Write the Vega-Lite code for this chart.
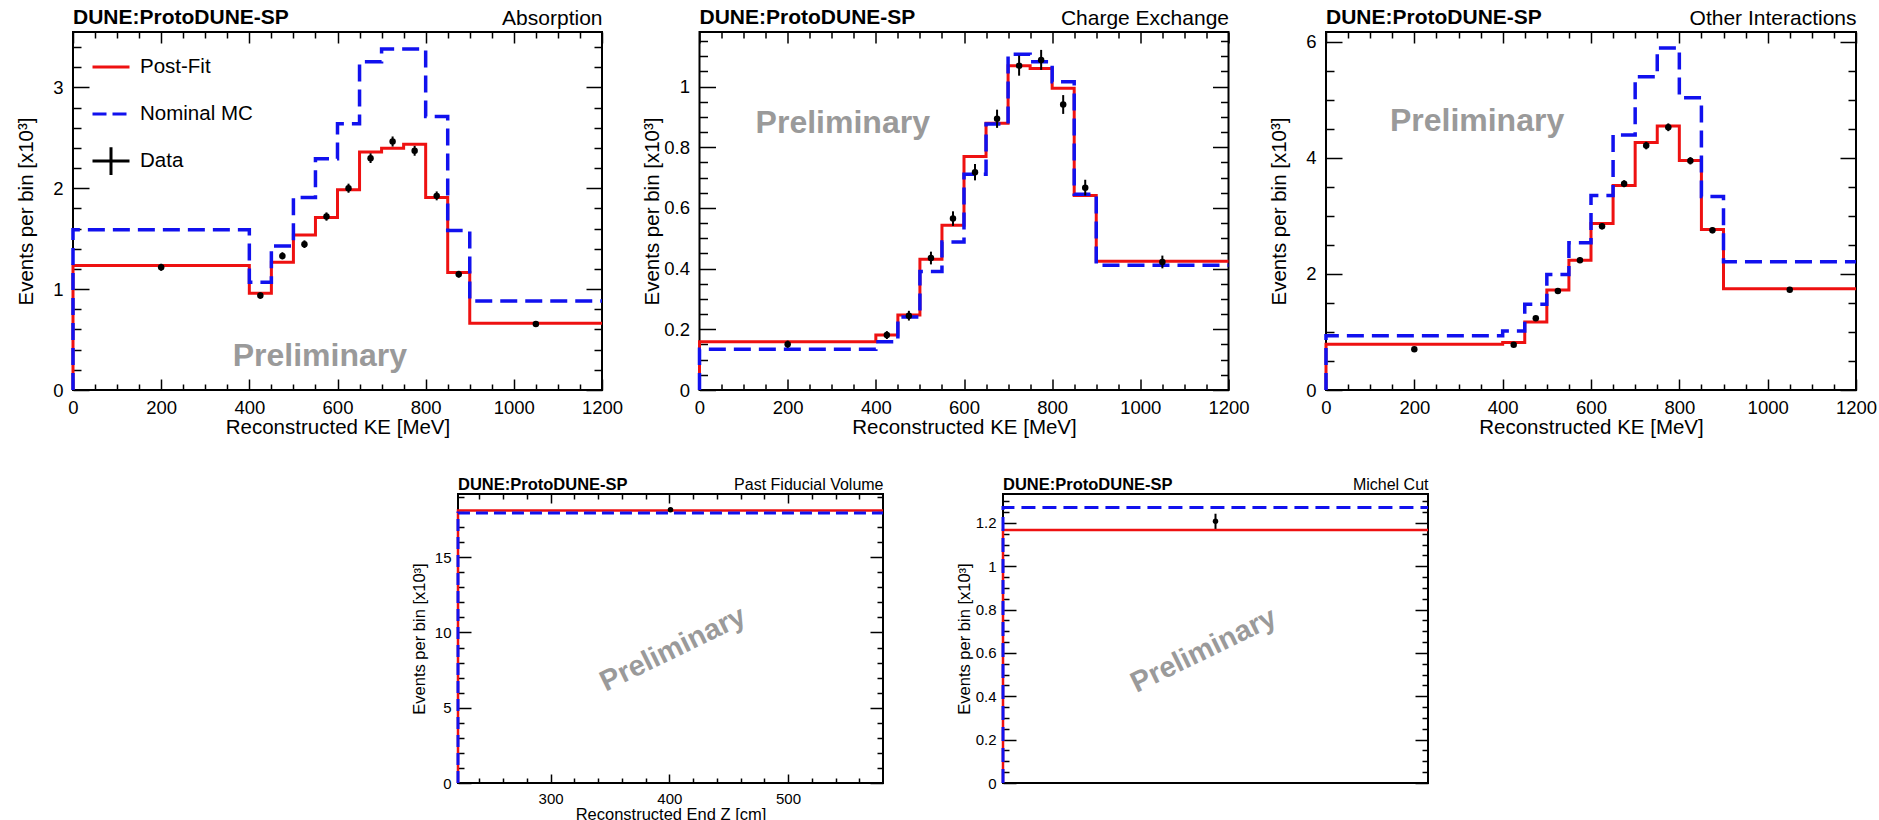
{
"$schema": "https://vega.github.io/schema/vega-lite/v6.json",
"background": "white",
"padding": {"left": 15, "top": 6, "right": 0, "bottom": 0},
"datasets": {
"abs_steps": [
{"s":"Post-Fit","o":0,"e":0,"v":0},{"s":"Post-Fit","o":1,"e":0,"v":1.234},{"s":"Post-Fit","o":2,"e":400,"v":0.959},{"s":"Post-Fit","o":3,"e":450,"v":1.267},{"s":"Post-Fit","o":4,"e":500,"v":1.538},{"s":"Post-Fit","o":5,"e":550,"v":1.71},{"s":"Post-Fit","o":6,"e":600,"v":1.985},{"s":"Post-Fit","o":7,"e":650,"v":2.359},{"s":"Post-Fit","o":8,"e":700,"v":2.398},{"s":"Post-Fit","o":9,"e":750,"v":2.438},{"s":"Post-Fit","o":10,"e":800,"v":1.909},{"s":"Post-Fit","o":11,"e":850,"v":1.164},{"s":"Post-Fit","o":12,"e":900,"v":0.662},{"s":"Post-Fit","o":13,"e":1200,"v":0.662},
{"s":"Nominal MC","o":0,"e":0,"v":0},{"s":"Nominal MC","o":1,"e":0,"v":1.588},{"s":"Nominal MC","o":2,"e":400,"v":1.068},{"s":"Nominal MC","o":3,"e":450,"v":1.429},{"s":"Nominal MC","o":4,"e":500,"v":1.909},{"s":"Nominal MC","o":5,"e":550,"v":2.292},{"s":"Nominal MC","o":6,"e":600,"v":2.64},{"s":"Nominal MC","o":7,"e":650,"v":3.255},{"s":"Nominal MC","o":8,"e":700,"v":3.381},{"s":"Nominal MC","o":9,"e":750,"v":3.381},{"s":"Nominal MC","o":10,"e":800,"v":2.712},{"s":"Nominal MC","o":11,"e":850,"v":1.581},{"s":"Nominal MC","o":12,"e":900,"v":0.883},{"s":"Nominal MC","o":13,"e":1200,"v":0.883}
],
"abs_pts": [
{"x":200,"v":1.217,"lo":1.182,"hi":1.252},{"x":425,"v":0.936,"lo":0.905,"hi":0.967},{"x":475,"v":1.33,"lo":1.294,"hi":1.366},{"x":525,"v":1.446,"lo":1.408,"hi":1.484},{"x":575,"v":1.72,"lo":1.679,"hi":1.761},{"x":625,"v":2.001,"lo":1.956,"hi":2.046},{"x":675,"v":2.299,"lo":2.251,"hi":2.347},{"x":725,"v":2.464,"lo":2.414,"hi":2.514},{"x":775,"v":2.372,"lo":2.323,"hi":2.421},{"x":825,"v":1.925,"lo":1.881,"hi":1.969},{"x":875,"v":1.148,"lo":1.114,"hi":1.182},{"x":1050,"v":0.655,"lo":0.629,"hi":0.681}
],
"cex_steps": [
{"s":"Post-Fit","o":0,"e":0,"v":0},{"s":"Post-Fit","o":1,"e":0,"v":0.159},{"s":"Post-Fit","o":2,"e":400,"v":0.181},{"s":"Post-Fit","o":3,"e":450,"v":0.247},{"s":"Post-Fit","o":4,"e":500,"v":0.431},{"s":"Post-Fit","o":5,"e":550,"v":0.543},{"s":"Post-Fit","o":6,"e":600,"v":0.77},{"s":"Post-Fit","o":7,"e":650,"v":0.879},{"s":"Post-Fit","o":8,"e":700,"v":1.069},{"s":"Post-Fit","o":9,"e":750,"v":1.06},{"s":"Post-Fit","o":10,"e":800,"v":0.995},{"s":"Post-Fit","o":11,"e":850,"v":0.641},{"s":"Post-Fit","o":12,"e":900,"v":0.424},{"s":"Post-Fit","o":13,"e":1200,"v":0.424},
{"s":"Nominal MC","o":0,"e":0,"v":0},{"s":"Nominal MC","o":1,"e":0,"v":0.134},{"s":"Nominal MC","o":2,"e":400,"v":0.159},{"s":"Nominal MC","o":3,"e":450,"v":0.241},{"s":"Nominal MC","o":4,"e":500,"v":0.391},{"s":"Nominal MC","o":5,"e":550,"v":0.488},{"s":"Nominal MC","o":6,"e":600,"v":0.711},{"s":"Nominal MC","o":7,"e":650,"v":0.877},{"s":"Nominal MC","o":8,"e":700,"v":1.107},{"s":"Nominal MC","o":9,"e":750,"v":1.082},{"s":"Nominal MC","o":10,"e":800,"v":1.016},{"s":"Nominal MC","o":11,"e":850,"v":0.645},{"s":"Nominal MC","o":12,"e":900,"v":0.411},{"s":"Nominal MC","o":13,"e":1200,"v":0.411}
],
"cex_pts": [
{"x":200,"v":0.151,"lo":0.139,"hi":0.163},{"x":425,"v":0.181,"lo":0.168,"hi":0.194},{"x":475,"v":0.245,"lo":0.229,"hi":0.261},{"x":525,"v":0.435,"lo":0.414,"hi":0.456},{"x":575,"v":0.565,"lo":0.541,"hi":0.589},{"x":625,"v":0.718,"lo":0.691,"hi":0.745},{"x":675,"v":0.894,"lo":0.864,"hi":0.924},{"x":725,"v":1.069,"lo":1.036,"hi":1.102},{"x":775,"v":1.088,"lo":1.055,"hi":1.121},{"x":825,"v":0.941,"lo":0.91,"hi":0.972},{"x":875,"v":0.667,"lo":0.641,"hi":0.693},{"x":1050,"v":0.422,"lo":0.401,"hi":0.443}
],
"oth_steps": [
{"s":"Post-Fit","o":0,"e":0,"v":0},{"s":"Post-Fit","o":1,"e":0,"v":0.79},{"s":"Post-Fit","o":2,"e":400,"v":0.819},{"s":"Post-Fit","o":3,"e":450,"v":1.173},{"s":"Post-Fit","o":4,"e":500,"v":1.723},{"s":"Post-Fit","o":5,"e":550,"v":2.238},{"s":"Post-Fit","o":6,"e":600,"v":2.868},{"s":"Post-Fit","o":7,"e":650,"v":3.526},{"s":"Post-Fit","o":8,"e":700,"v":4.265},{"s":"Post-Fit","o":9,"e":750,"v":4.551},{"s":"Post-Fit","o":10,"e":800,"v":3.955},{"s":"Post-Fit","o":11,"e":850,"v":2.765},{"s":"Post-Fit","o":12,"e":900,"v":1.746},{"s":"Post-Fit","o":13,"e":1200,"v":1.746},
{"s":"Nominal MC","o":0,"e":0,"v":0},{"s":"Nominal MC","o":1,"e":0,"v":0.933},{"s":"Nominal MC","o":2,"e":400,"v":1.019},{"s":"Nominal MC","o":3,"e":450,"v":1.477},{"s":"Nominal MC","o":4,"e":500,"v":1.992},{"s":"Nominal MC","o":5,"e":550,"v":2.536},{"s":"Nominal MC","o":6,"e":600,"v":3.354},{"s":"Nominal MC","o":7,"e":650,"v":4.396},{"s":"Nominal MC","o":8,"e":700,"v":5.398},{"s":"Nominal MC","o":9,"e":750,"v":5.896},{"s":"Nominal MC","o":10,"e":800,"v":5.037},{"s":"Nominal MC","o":11,"e":850,"v":3.337},{"s":"Nominal MC","o":12,"e":900,"v":2.209},{"s":"Nominal MC","o":13,"e":1200,"v":2.209}
],
"oth_pts": [
{"x":200,"v":0.704,"lo":0.677,"hi":0.731},{"x":425,"v":0.778,"lo":0.75,"hi":0.806},{"x":475,"v":1.236,"lo":1.201,"hi":1.271},{"x":525,"v":1.706,"lo":1.665,"hi":1.747},{"x":575,"v":2.238,"lo":2.191,"hi":2.285},{"x":625,"v":2.822,"lo":2.769,"hi":2.875},{"x":675,"v":3.555,"lo":3.495,"hi":3.615},{"x":725,"v":4.213,"lo":4.148,"hi":4.278},{"x":775,"v":4.528,"lo":4.461,"hi":4.595},{"x":825,"v":3.95,"lo":3.887,"hi":4.013},{"x":875,"v":2.753,"lo":2.701,"hi":2.805},{"x":1050,"v":1.729,"lo":1.687,"hi":1.771}
],
"fid_steps": [
{"s":"Post-Fit","o":0,"e":222,"v":0},{"s":"Post-Fit","o":1,"e":222,"v":18.11},{"s":"Post-Fit","o":2,"e":580,"v":18.11},
{"s":"Nominal MC","o":0,"e":222,"v":0},{"s":"Nominal MC","o":1,"e":222,"v":17.94},{"s":"Nominal MC","o":2,"e":580,"v":17.94}
],
"fid_pts": [{"x":401,"v":18.16,"lo":18.03,"hi":18.29}],
"mic_steps": [
{"s":"Post-Fit","o":0,"e":0,"v":0},{"s":"Post-Fit","o":1,"e":0,"v":1.167},{"s":"Post-Fit","o":2,"e":1,"v":1.167},
{"s":"Nominal MC","o":0,"e":0,"v":0},{"s":"Nominal MC","o":1,"e":0,"v":1.271},{"s":"Nominal MC","o":2,"e":1,"v":1.271}
],
"mic_pts": [{"x":0.5,"v":1.207,"lo":1.172,"hi":1.242}]
},
"vconcat": [
{
"hconcat": [
{
"width": 529, "height": 358,
"title": {"text": "DUNE:ProtoDUNE-SP", "fontSize": 21, "offset": -21},
"layer": [
{"data": {"name": "abs_steps"}, "transform": [{"filter": "datum.s === 'Post-Fit'"}],
 "mark": {"type": "line", "interpolate": "step-after", "strokeWidth": 3},
 "encoding": {
  "x": {"field": "e", "type": "quantitative", "scale": {"domain": [0, 1200], "nice": false, "zero": false},
   "axis": {"orient": "bottom", "values": [0,50,100,150,200,250,300,350,400,450,500,550,600,650,700,750,800,850,900,950,1000,1050,1100,1150,1200], "tickSize": {"condition": {"test": "datum.value % 200 === 0", "value": -11}, "value": -6}, "labelExpr": "datum.value % 200 === 0 ? datum.label : ''", "format": "d", "labelFontSize": 18.5, "labelPadding": 19.5, "title": "Reconstructed KE [MeV]", "titleFontSize": 20.5, "titlePadding": 5, "minExtent": 22, "maxExtent": 22}},
  "y": {"field": "v", "type": "quantitative", "scale": {"domain": [0, 3.55], "nice": false, "zero": false},
   "axis": {"orient": "left", "values": [0,0.2,0.4,0.6,0.8,1,1.2,1.4,1.6,1.8,2,2.2,2.4,2.6,2.8,3,3.2,3.4], "tickSize": {"condition": {"test": "abs(datum.value - round(datum.value)) < 1e-6", "value": -16}, "value": -8}, "labelExpr": "abs(datum.value - round(datum.value)) < 1e-6 ? datum.label : ''", "format": "~g", "labelFontSize": 18.5, "labelPadding": 26, "title": "Events per bin [x10³]", "titleFontSize": 20.5, "titlePadding": 4, "minExtent": 33, "maxExtent": 33}},
  "order": {"field": "o", "type": "quantitative"},
  "color": {"datum": "Post-Fit", "scale": {"domain": ["Post-Fit", "Nominal MC", "Data"], "range": ["#ee1111", "#1111ee", "#000000"]},
   "legend": {"orient": "top-left", "offset": 15, "padding": 0, "title": null, "symbolType": "stroke", "symbolSize": 1369, "symbolStrokeWidth": 3, "symbolOffset": 3, "labelFontSize": 20.5, "labelColor": "#000000", "labelOffset": 9, "rowPadding": 16,
    "encode": {"symbols": {"update": {"shape": {"signal": "datum.value === 'Data' ? 'M-1,0H1M0,-0.75V0.75' : 'stroke'"}, "strokeDash": {"signal": "datum.value === 'Nominal MC' ? [14, 6] : [1, 0]"}}}}}}
 }},
{"data": {"name": "abs_steps"}, "transform": [{"filter": "datum.s === 'Nominal MC'"}],
 "mark": {"type": "line", "interpolate": "step-after", "strokeWidth": 3.5, "strokeDash": [17, 8]},
 "encoding": {
  "x": {"field": "e", "type": "quantitative",
   "axis": {"orient": "top", "values": [0,50,100,150,200,250,300,350,400,450,500,550,600,650,700,750,800,850,900,950,1000,1050,1100,1150,1200], "tickSize": {"condition": {"test": "datum.value % 200 === 0", "value": -11}, "value": -6}, "labels": false, "title": "Absorption", "titleFontSize": 21, "titleAnchor": "end", "titleAlign": "right", "titlePadding": 4, "minExtent": 0, "maxExtent": 0}},
  "y": {"field": "v", "type": "quantitative",
   "axis": {"orient": "right", "values": [0,0.2,0.4,0.6,0.8,1,1.2,1.4,1.6,1.8,2,2.2,2.4,2.6,2.8,3,3.2,3.4], "tickSize": {"condition": {"test": "abs(datum.value - round(datum.value)) < 1e-6", "value": -16}, "value": -8}, "labels": false, "title": null}},
  "order": {"field": "o", "type": "quantitative"},
  "color": {"datum": "Nominal MC"}
 }},
{"data": {"name": "abs_pts"}, "mark": {"type": "rule", "strokeWidth": 2},
 "encoding": {"x": {"field": "x", "type": "quantitative", "axis": null}, "y": {"field": "lo", "type": "quantitative", "axis": null}, "y2": {"field": "hi"}, "color": {"datum": "Data"}}},
{"data": {"name": "abs_pts"}, "mark": {"type": "circle", "color": "#000000", "size": 42, "opacity": 1},
 "encoding": {"x": {"field": "x", "type": "quantitative", "axis": null}, "y": {"field": "v", "type": "quantitative", "axis": null}}},
{"data": {"values": [{"t": "Preliminary"}]}, "mark": {"type": "text", "fontSize": 32, "fontWeight": "bold", "color": "#9a9a9a", "align": "center", "baseline": "middle"},
 "encoding": {"x": {"datum": 560, "type": "quantitative", "axis": null}, "y": {"datum": 0.337, "type": "quantitative", "axis": null}, "text": {"field": "t"}}}
],
"resolve": {"axis": {"x": "independent", "y": "independent"}}
},
{
"width": 529, "height": 358,
"title": {"text": "DUNE:ProtoDUNE-SP", "fontSize": 21, "offset": -21},
"layer": [
{"data": {"name": "cex_steps"}, "transform": [{"filter": "datum.s === 'Post-Fit'"}],
 "mark": {"type": "line", "interpolate": "step-after", "strokeWidth": 3, "color": "#ee1111"},
 "encoding": {
  "x": {"field": "e", "type": "quantitative", "scale": {"domain": [0, 1200], "nice": false, "zero": false},
   "axis": {"orient": "bottom", "values": [0,50,100,150,200,250,300,350,400,450,500,550,600,650,700,750,800,850,900,950,1000,1050,1100,1150,1200], "tickSize": {"condition": {"test": "datum.value % 200 === 0", "value": -11}, "value": -6}, "labelExpr": "datum.value % 200 === 0 ? datum.label : ''", "format": "d", "labelFontSize": 18.5, "labelPadding": 19.5, "title": "Reconstructed KE [MeV]", "titleFontSize": 20.5, "titlePadding": 5, "minExtent": 22, "maxExtent": 22}},
  "y": {"field": "v", "type": "quantitative", "scale": {"domain": [0, 1.18], "nice": false, "zero": false},
   "axis": {"orient": "left", "values": [0,0.05,0.1,0.15,0.2,0.25,0.3,0.35,0.4,0.45,0.5,0.55,0.6,0.65,0.7,0.75,0.8,0.85,0.9,0.95,1,1.05,1.1,1.15], "tickSize": {"condition": {"test": "abs(datum.value / 0.2 - round(datum.value / 0.2)) < 1e-6", "value": -16}, "value": -8}, "labelExpr": "abs(datum.value / 0.2 - round(datum.value / 0.2)) < 1e-6 ? datum.label : ''", "format": "~g", "labelFontSize": 18.5, "labelPadding": 26, "title": "Events per bin [x10³]", "titleFontSize": 20.5, "titlePadding": 4, "minExtent": 33, "maxExtent": 33}},
  "order": {"field": "o", "type": "quantitative"}
 }},
{"data": {"name": "cex_steps"}, "transform": [{"filter": "datum.s === 'Nominal MC'"}],
 "mark": {"type": "line", "interpolate": "step-after", "strokeWidth": 3.5, "strokeDash": [17, 8], "color": "#1111ee"},
 "encoding": {
  "x": {"field": "e", "type": "quantitative",
   "axis": {"orient": "top", "values": [0,50,100,150,200,250,300,350,400,450,500,550,600,650,700,750,800,850,900,950,1000,1050,1100,1150,1200], "tickSize": {"condition": {"test": "datum.value % 200 === 0", "value": -11}, "value": -6}, "labels": false, "title": "Charge Exchange", "titleFontSize": 21, "titleAnchor": "end", "titleAlign": "right", "titlePadding": 4, "minExtent": 0, "maxExtent": 0}},
  "y": {"field": "v", "type": "quantitative",
   "axis": {"orient": "right", "values": [0,0.05,0.1,0.15,0.2,0.25,0.3,0.35,0.4,0.45,0.5,0.55,0.6,0.65,0.7,0.75,0.8,0.85,0.9,0.95,1,1.05,1.1,1.15], "tickSize": {"condition": {"test": "abs(datum.value / 0.2 - round(datum.value / 0.2)) < 1e-6", "value": -16}, "value": -8}, "labels": false, "title": null}},
  "order": {"field": "o", "type": "quantitative"}
 }},
{"data": {"name": "cex_pts"}, "mark": {"type": "rule", "strokeWidth": 2, "color": "#000000"},
 "encoding": {"x": {"field": "x", "type": "quantitative", "axis": null}, "y": {"field": "lo", "type": "quantitative", "axis": null}, "y2": {"field": "hi"}}},
{"data": {"name": "cex_pts"}, "mark": {"type": "circle", "color": "#000000", "size": 42, "opacity": 1},
 "encoding": {"x": {"field": "x", "type": "quantitative", "axis": null}, "y": {"field": "v", "type": "quantitative", "axis": null}}},
{"data": {"values": [{"t": "Preliminary"}]}, "mark": {"type": "text", "fontSize": 32, "fontWeight": "bold", "color": "#9a9a9a", "align": "center", "baseline": "middle"},
 "encoding": {"x": {"datum": 325, "type": "quantitative", "axis": null}, "y": {"datum": 0.88, "type": "quantitative", "axis": null}, "text": {"field": "t"}}}
],
"resolve": {"axis": {"x": "independent", "y": "independent"}}
},
{
"width": 530, "height": 358,
"title": {"text": "DUNE:ProtoDUNE-SP", "fontSize": 21, "offset": -21},
"layer": [
{"data": {"name": "oth_steps"}, "transform": [{"filter": "datum.s === 'Post-Fit'"}],
 "mark": {"type": "line", "interpolate": "step-after", "strokeWidth": 3, "color": "#ee1111"},
 "encoding": {
  "x": {"field": "e", "type": "quantitative", "scale": {"domain": [0, 1200], "nice": false, "zero": false},
   "axis": {"orient": "bottom", "values": [0,50,100,150,200,250,300,350,400,450,500,550,600,650,700,750,800,850,900,950,1000,1050,1100,1150,1200], "tickSize": {"condition": {"test": "datum.value % 200 === 0", "value": -11}, "value": -6}, "labelExpr": "datum.value % 200 === 0 ? datum.label : ''", "format": "d", "labelFontSize": 18.5, "labelPadding": 19.5, "title": "Reconstructed KE [MeV]", "titleFontSize": 20.5, "titlePadding": 5, "minExtent": 22, "maxExtent": 22}},
  "y": {"field": "v", "type": "quantitative", "scale": {"domain": [0, 6.17], "nice": false, "zero": false},
   "axis": {"orient": "left", "values": [0,0.5,1,1.5,2,2.5,3,3.5,4,4.5,5,5.5,6], "tickSize": {"condition": {"test": "datum.value % 2 === 0", "value": -16}, "value": -8}, "labelExpr": "datum.value % 2 === 0 ? datum.label : ''", "format": "~g", "labelFontSize": 18.5, "labelPadding": 26, "title": "Events per bin [x10³]", "titleFontSize": 20.5, "titlePadding": 4, "minExtent": 33, "maxExtent": 33}},
  "order": {"field": "o", "type": "quantitative"}
 }},
{"data": {"name": "oth_steps"}, "transform": [{"filter": "datum.s === 'Nominal MC'"}],
 "mark": {"type": "line", "interpolate": "step-after", "strokeWidth": 3.5, "strokeDash": [17, 8], "color": "#1111ee"},
 "encoding": {
  "x": {"field": "e", "type": "quantitative",
   "axis": {"orient": "top", "values": [0,50,100,150,200,250,300,350,400,450,500,550,600,650,700,750,800,850,900,950,1000,1050,1100,1150,1200], "tickSize": {"condition": {"test": "datum.value % 200 === 0", "value": -11}, "value": -6}, "labels": false, "title": "Other Interactions", "titleFontSize": 21, "titleAnchor": "end", "titleAlign": "right", "titlePadding": 4, "minExtent": 0, "maxExtent": 0}},
  "y": {"field": "v", "type": "quantitative",
   "axis": {"orient": "right", "values": [0,0.5,1,1.5,2,2.5,3,3.5,4,4.5,5,5.5,6], "tickSize": {"condition": {"test": "datum.value % 2 === 0", "value": -16}, "value": -8}, "labels": false, "title": null}},
  "order": {"field": "o", "type": "quantitative"}
 }},
{"data": {"name": "oth_pts"}, "mark": {"type": "rule", "strokeWidth": 2, "color": "#000000"},
 "encoding": {"x": {"field": "x", "type": "quantitative", "axis": null}, "y": {"field": "lo", "type": "quantitative", "axis": null}, "y2": {"field": "hi"}}},
{"data": {"name": "oth_pts"}, "mark": {"type": "circle", "color": "#000000", "size": 42, "opacity": 1},
 "encoding": {"x": {"field": "x", "type": "quantitative", "axis": null}, "y": {"field": "v", "type": "quantitative", "axis": null}}},
{"data": {"values": [{"t": "Preliminary"}]}, "mark": {"type": "text", "fontSize": 32, "fontWeight": "bold", "color": "#9a9a9a", "align": "center", "baseline": "middle"},
 "encoding": {"x": {"datum": 342, "type": "quantitative", "axis": null}, "y": {"datum": 4.64, "type": "quantitative", "axis": null}, "text": {"field": "t"}}}
],
"resolve": {"axis": {"x": "independent", "y": "independent"}}
}
],
"spacing": 97.5,
"bounds": "flush",
"resolve": {"scale": {"color": "independent"}, "legend": {"color": "independent"}}
},
{
"hconcat": [
{"width": 265, "height": 289, "data": {"values": []}, "mark": {"type": "point", "opacity": 0}, "encoding": {}, "view": {"stroke": null}},
{
"width": 425, "height": 289,
"title": {"text": "DUNE:ProtoDUNE-SP", "fontSize": 16.5, "offset": -17},
"layer": [
{"data": {"name": "fid_steps"}, "transform": [{"filter": "datum.s === 'Post-Fit'"}],
 "mark": {"type": "line", "interpolate": "step-after", "strokeWidth": 2.5, "color": "#ee1111"},
 "encoding": {
  "x": {"field": "e", "type": "quantitative", "scale": {"domain": [222, 580], "nice": false, "zero": false},
   "axis": {"orient": "bottom", "values": [240,260,280,300,320,340,360,380,400,420,440,460,480,500,520,540,560], "tickSize": {"condition": {"test": "datum.value % 100 === 0", "value": -9}, "value": -5}, "labelExpr": "datum.value % 100 === 0 ? datum.label : ''", "format": "d", "labelFontSize": 15, "labelPadding": 17, "title": "Reconstructed End Z [cm]", "titleFontSize": 16.5, "titlePadding": 4, "minExtent": 19, "maxExtent": 19}},
  "y": {"field": "v", "type": "quantitative", "scale": {"domain": [0, 19.2], "nice": false, "zero": false},
   "axis": {"orient": "left", "values": [0,1,2,3,4,5,6,7,8,9,10,11,12,13,14,15,16,17,18,19], "tickSize": {"condition": {"test": "datum.value % 5 === 0", "value": -13}, "value": -6}, "labelExpr": "datum.value % 5 === 0 ? datum.label : ''", "format": "~g", "labelFontSize": 15, "labelPadding": 20, "title": "Events per bin [x10³]", "titleFontSize": 16.5, "titlePadding": 5, "minExtent": 26, "maxExtent": 26}},
  "order": {"field": "o", "type": "quantitative"}
 }},
{"data": {"name": "fid_steps"}, "transform": [{"filter": "datum.s === 'Nominal MC'"}],
 "mark": {"type": "line", "interpolate": "step-after", "strokeWidth": 3, "strokeDash": [12, 6], "color": "#1111ee"},
 "encoding": {
  "x": {"field": "e", "type": "quantitative",
   "axis": {"orient": "top", "values": [240,260,280,300,320,340,360,380,400,420,440,460,480,500,520,540,560], "tickSize": {"condition": {"test": "datum.value % 100 === 0", "value": -9}, "value": -5}, "labels": false, "title": "Past Fiducial Volume", "titleFontSize": 16, "titleAnchor": "end", "titleAlign": "right", "titlePadding": 2, "minExtent": 0, "maxExtent": 0}},
  "y": {"field": "v", "type": "quantitative",
   "axis": {"orient": "right", "values": [0,1,2,3,4,5,6,7,8,9,10,11,12,13,14,15,16,17,18,19], "tickSize": {"condition": {"test": "datum.value % 5 === 0", "value": -13}, "value": -6}, "labels": false, "title": null}},
  "order": {"field": "o", "type": "quantitative"}
 }},
{"data": {"name": "fid_pts"}, "mark": {"type": "rule", "strokeWidth": 2, "color": "#000000"},
 "encoding": {"x": {"field": "x", "type": "quantitative", "axis": null}, "y": {"field": "lo", "type": "quantitative", "axis": null}, "y2": {"field": "hi"}}},
{"data": {"name": "fid_pts"}, "mark": {"type": "circle", "color": "#000000", "size": 30, "opacity": 1},
 "encoding": {"x": {"field": "x", "type": "quantitative", "axis": null}, "y": {"field": "v", "type": "quantitative", "axis": null}}},
{"data": {"values": [{"t": "Preliminary"}]}, "mark": {"type": "text", "fontSize": 29, "fontWeight": "bold", "color": "#9a9a9a", "align": "center", "baseline": "middle", "angle": -26},
 "encoding": {"x": {"datum": 403, "type": "quantitative", "axis": null}, "y": {"datum": 8.9, "type": "quantitative", "axis": null}, "text": {"field": "t"}}}
],
"resolve": {"axis": {"x": "independent", "y": "independent"}}
},
{
"width": 425, "height": 289,
"title": {"text": "DUNE:ProtoDUNE-SP", "fontSize": 16.5, "offset": -17},
"layer": [
{"data": {"name": "mic_steps"}, "transform": [{"filter": "datum.s === 'Post-Fit'"}],
 "mark": {"type": "line", "interpolate": "step-after", "strokeWidth": 2.5, "color": "#ee1111"},
 "encoding": {
  "x": {"field": "e", "type": "quantitative", "scale": {"domain": [0, 1], "nice": false, "zero": false}, "axis": null},
  "y": {"field": "v", "type": "quantitative", "scale": {"domain": [0, 1.333], "nice": false, "zero": false},
   "axis": {"orient": "left", "values": [0,0.05,0.1,0.15,0.2,0.25,0.3,0.35,0.4,0.45,0.5,0.55,0.6,0.65,0.7,0.75,0.8,0.85,0.9,0.95,1,1.05,1.1,1.15,1.2,1.25,1.3], "tickSize": {"condition": {"test": "abs(datum.value / 0.2 - round(datum.value / 0.2)) < 1e-6", "value": -13}, "value": -6}, "labelExpr": "abs(datum.value / 0.2 - round(datum.value / 0.2)) < 1e-6 ? datum.label : ''", "format": "~g", "labelFontSize": 15, "labelPadding": 20, "title": "Events per bin [x10³]", "titleFontSize": 16.5, "titlePadding": 5, "minExtent": 26, "maxExtent": 26}},
  "order": {"field": "o", "type": "quantitative"}
 }},
{"data": {"name": "mic_steps"}, "transform": [{"filter": "datum.s === 'Nominal MC'"}],
 "mark": {"type": "line", "interpolate": "step-after", "strokeWidth": 3, "strokeDash": [14, 7], "color": "#1111ee"},
 "encoding": {
  "x": {"field": "e", "type": "quantitative",
   "axis": {"orient": "top", "ticks": false, "labels": false, "title": "Michel Cut", "titleFontSize": 16, "titleAnchor": "end", "titleAlign": "right", "titlePadding": 2, "minExtent": 0, "maxExtent": 0}},
  "y": {"field": "v", "type": "quantitative",
   "axis": {"orient": "right", "values": [0,0.05,0.1,0.15,0.2,0.25,0.3,0.35,0.4,0.45,0.5,0.55,0.6,0.65,0.7,0.75,0.8,0.85,0.9,0.95,1,1.05,1.1,1.15,1.2,1.25,1.3], "tickSize": {"condition": {"test": "abs(datum.value / 0.2 - round(datum.value / 0.2)) < 1e-6", "value": -13}, "value": -6}, "labels": false, "title": null}},
  "order": {"field": "o", "type": "quantitative"}
 }},
{"data": {"name": "mic_pts"}, "mark": {"type": "rule", "strokeWidth": 2, "color": "#000000"},
 "encoding": {"x": {"field": "x", "type": "quantitative", "axis": null}, "y": {"field": "lo", "type": "quantitative", "axis": null}, "y2": {"field": "hi"}}},
{"data": {"name": "mic_pts"}, "mark": {"type": "circle", "color": "#000000", "size": 30, "opacity": 1},
 "encoding": {"x": {"field": "x", "type": "quantitative", "axis": null}, "y": {"field": "v", "type": "quantitative", "axis": null}}},
{"data": {"values": [{"t": "Preliminary"}]}, "mark": {"type": "text", "fontSize": 29, "fontWeight": "bold", "color": "#9a9a9a", "align": "center", "baseline": "middle", "angle": -26},
 "encoding": {"x": {"datum": 0.472, "type": "quantitative", "axis": null}, "y": {"datum": 0.612, "type": "quantitative", "axis": null}, "text": {"field": "t"}}}
],
"resolve": {"axis": {"x": "independent", "y": "independent"}}
}
],
"spacing": 120,
"bounds": "flush"
}
],
"spacing": 462,
"bounds": "flush",
"resolve": {"scale": {"color": "independent"}, "legend": {"color": "independent"}},
"config": {
"font": "Liberation Sans",
"view": {"stroke": "#000000", "strokeWidth": 2},
"axis": {"domain": false, "grid": false, "labelFont": "Liberation Sans", "titleFont": "Liberation Sans", "titleFontWeight": "normal", "labelColor": "#000000", "titleColor": "#000000", "tickColor": "#000000", "tickWidth": 1.5, "labelFlush": false, "labelOverlap": false, "labelBound": false},
"title": {"font": "Liberation Sans", "fontWeight": "bold", "color": "#000000", "anchor": "start", "frame": "group"},
"legend": {"labelFont": "Liberation Sans"},
"text": {"font": "Liberation Sans"}
}
}
